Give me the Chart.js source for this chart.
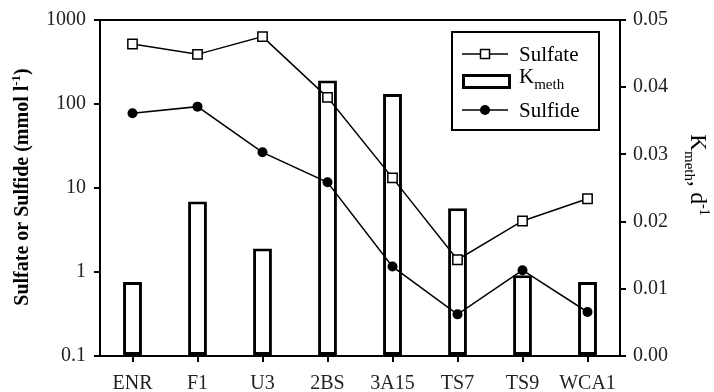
<!DOCTYPE html>
<html>
<head>
<meta charset="utf-8">
<script src="https://cdn.jsdelivr.net/npm/chart.js@4.4.1/dist/chart.umd.min.js"></script>
<style>
  html, body { margin: 0; padding: 0; background: #fff; }
  #wrap { width: 714px; height: 392px; position: relative; }
</style>
</head>
<body>
<div id="wrap"><canvas id="c" width="714" height="392"></canvas></div>
<script>
// Sites along the sampling transect
const sites = ['ENR', 'F1', 'U3', '2BS', '3A15', 'TS7', 'TS9', 'WCA1'];
// Porewater sulfate and sulfide concentrations (mmol l-1), log axis
const sulfate = [518, 390, 634, 120, 13.2, 1.4, 4.05, 7.45];
const sulfide = [77.5, 93, 26.6, 11.7, 1.16, 0.313, 1.05, 0.334];
// First-order methanogenesis rate constant (d-1), right axis
const kmeth = [0.011, 0.023, 0.016, 0.041, 0.039, 0.022, 0.012, 0.011];
// Axis tick values
const logTicks = [0.1, 1, 10, 100, 1000];
const rateTicks = [0, 0.01, 0.02, 0.03, 0.04, 0.05];

const SERIF = '"Liberation Serif", "Times New Roman", serif';
const INK = '#000';

// Draws a run of text pieces (normal / sub / sup) starting at x, baseline y
function richWidth(ctx, parts) {
  let w = 0;
  for (const p of parts) { ctx.font = p.font; w += ctx.measureText(p.t).width; }
  return w;
}
function drawRich(ctx, parts, x, y) {
  let cx = x;
  for (const p of parts) {
    ctx.font = p.font;
    ctx.fillText(p.t, cx, y + (p.dy || 0));
    cx += ctx.measureText(p.t).width;
  }
}

const leftTitle = [
  { t: 'Sulfate or Sulfide (mmol l', font: 'bold 20px ' + SERIF },
  { t: '-1', font: 'bold 13px ' + SERIF, dy: -8 },
  { t: ')', font: 'bold 20px ' + SERIF }
];
const rightTitle = [
  { t: 'K', font: '23px ' + SERIF },
  { t: 'meth', font: '15px ' + SERIF, dy: 6 },
  { t: ', d', font: '23px ' + SERIF },
  { t: '-1', font: '14px ' + SERIF, dy: -9 }
];
const kLabel = [
  { t: 'K', font: '21px ' + SERIF },
  { t: 'meth', font: '15px ' + SERIF, dy: 6 }
];

const decorPlugin = {
  id: 'decor',
  afterDraw(chart) {
    const ctx = chart.ctx;
    const a = chart.chartArea;
    ctx.save();
    // frame line along the top of the plot
    ctx.strokeStyle = INK;
    ctx.lineWidth = 2;
    ctx.beginPath();
    ctx.moveTo(a.left - 1, a.top);
    ctx.lineTo(a.right + 1, a.top);
    ctx.stroke();

    ctx.fillStyle = INK;
    ctx.textBaseline = 'alphabetic';
    ctx.textAlign = 'left';

    // left axis title, reading bottom to top
    let w = richWidth(ctx, leftTitle);
    ctx.save();
    ctx.translate(28, 187);
    ctx.rotate(-Math.PI / 2);
    drawRich(ctx, leftTitle, -w / 2, 0);
    ctx.restore();

    // right axis title, reading top to bottom
    w = richWidth(ctx, rightTitle);
    ctx.save();
    ctx.translate(691, 175);
    ctx.rotate(Math.PI / 2);
    drawRich(ctx, rightTitle, -w / 2, 0);
    ctx.restore();

    // legend box
    const bx = 452, by = 32, bw = 147, bh = 98;
    ctx.fillStyle = '#fff';
    ctx.fillRect(bx, by, bw, bh);
    ctx.strokeStyle = INK;
    ctx.lineWidth = 2;
    ctx.strokeRect(bx, by, bw, bh);

    const x0 = 462, x1 = 508, mx = 485, tx = 519;
    ctx.fillStyle = INK;
    // sulfate entry
    let y = 54;
    ctx.lineWidth = 1.5;
    ctx.beginPath(); ctx.moveTo(x0, y); ctx.lineTo(x1, y); ctx.stroke();
    ctx.fillStyle = '#fff';
    ctx.fillRect(mx - 4.5, y - 4.5, 9, 9);
    ctx.strokeRect(mx - 4.5, y - 4.5, 9, 9);
    ctx.fillStyle = INK;
    ctx.font = '21px ' + SERIF;
    ctx.fillText('Sulfate', tx, y + 7);
    // rate constant entry
    y = 81;
    ctx.lineWidth = 3;
    ctx.strokeRect(x0 + 1.5, y - 5.5, x1 - x0, 12);
    drawRich(ctx, kLabel, tx, y + 2);
    // sulfide entry
    y = 110;
    ctx.lineWidth = 1.5;
    ctx.beginPath(); ctx.moveTo(x0, y); ctx.lineTo(x1, y); ctx.stroke();
    ctx.beginPath(); ctx.arc(mx, y, 5, 0, Math.PI * 2); ctx.fill();
    ctx.font = '21px ' + SERIF;
    ctx.fillText('Sulfide', tx, y + 7);
    ctx.restore();
  }
};

const tickFont = { family: SERIF, size: 20 };

new Chart(document.getElementById('c'), {
  data: {
    labels: sites,
    datasets: [
      {
        type: 'line', label: 'Sulfate', data: sulfate, yAxisID: 'y',
        borderColor: INK, borderWidth: 1.5, backgroundColor: '#fff',
        pointStyle: 'rect', pointRadius: 6.6, pointBorderWidth: 1.5,
        pointBackgroundColor: '#fff', pointBorderColor: INK, tension: 0
      },
      {
        type: 'line', label: 'Sulfide', data: sulfide, yAxisID: 'y',
        borderColor: INK, borderWidth: 1.5, backgroundColor: INK,
        pointStyle: 'circle', pointRadius: 5, pointBorderWidth: 0,
        pointBackgroundColor: INK, tension: 0
      },
      {
        type: 'bar', label: 'Kmeth', data: kmeth, yAxisID: 'y1',
        backgroundColor: '#fff', borderColor: INK, borderWidth: 3,
        borderSkipped: false, categoryPercentage: 1, barPercentage: 0.29
      }
    ]
  },
  options: {
    responsive: false,
    animation: false,
    events: [],
    layout: { padding: { top: 20, left: 0, right: 0, bottom: 0 } },
    plugins: { legend: { display: false }, tooltip: { enabled: false } },
    scales: {
      x: {
        type: 'category', offset: true,
        grid: { display: true, drawOnChartArea: false, drawTicks: true, tickLength: 6, offset: false, color: INK, lineWidth: 2 },
        border: { display: true, color: INK, width: 2 },
        ticks: { font: tickFont, color: '#222', padding: 10, maxRotation: 0 },
        afterFit(s) { s.height = 36; }
      },
      y: {
        type: 'logarithmic', position: 'left', min: 0.1, max: 1000,
        afterBuildTicks(s) { s.ticks = logTicks.map(v => ({ value: v })); },
        grid: { display: true, drawOnChartArea: false, drawTicks: true, tickLength: 6, color: INK, lineWidth: 2 },
        border: { display: true, color: INK, width: 2 },
        ticks: { font: tickFont, color: '#222', padding: 8, callback: v => String(v) },
        afterFit(s) { s.width = 100; }
      },
      y1: {
        type: 'linear', position: 'right', min: 0, max: 0.05,
        afterBuildTicks(s) { s.ticks = rateTicks.map(v => ({ value: v })); },
        grid: { display: true, drawOnChartArea: false, drawTicks: true, tickLength: 6, color: INK, lineWidth: 2 },
        border: { display: true, color: INK, width: 2 },
        ticks: { font: tickFont, color: '#222', padding: 7, callback: v => v.toFixed(2) },
        afterFit(s) { s.width = 94; }
      }
    }
  },
  plugins: [decorPlugin]
});
</script>
</body>
</html>
